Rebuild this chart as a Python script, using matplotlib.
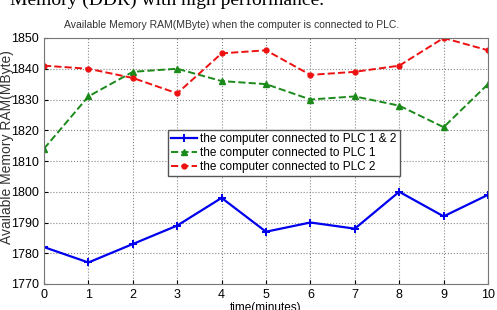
import matplotlib.pyplot as plt

time_min = [0, 1, 2, 3, 4, 5, 6, 7, 8, 9, 10]
plc_both = [1782, 1777, 1783, 1789, 1798, 1787, 1790, 1788, 1800, 1792, 1799]
plc_1 = [1814, 1831, 1839, 1840, 1836, 1835, 1830, 1831, 1828, 1821, 1835]
plc_2 = [1841, 1840, 1837, 1832, 1845, 1846, 1838, 1839, 1841, 1850, 1846]

plt.rcParams['font.family'] = ['Liberation Sans', 'DejaVu Sans']

fig = plt.figure(figsize=(4.97, 3.10), dpi=100)
ax = fig.add_axes([44/497, 1 - 284/310, 444/497, 246/310])

ax.plot(time_min, plc_both, color='#0000ee', lw=1.6, marker='+', ms=6, mew=1.4,
        label='the computer connected to PLC 1 & 2')
ax.plot(time_min, plc_1, color='#1a8a1a', lw=1.4, ls='--', marker='^', ms=5,
        label='the computer connected to PLC 1')
ax.plot(time_min, plc_2, color='#ee1111', lw=1.4, ls='--', marker='o', ms=3.5,
        label='the computer connected to PLC 2')

ax.set_xlim(0, 10)
ax.set_ylim(1770, 1850)
ax.set_xticks(time_min)
ax.set_yticks(range(1770, 1851, 10))
ax.grid(True, ls=':', color='#888888', lw=0.8)
ax.tick_params(labelsize=9, direction='in', length=3)
for s in ax.spines.values():
    s.set_color('#777777')

ax.set_xlabel('time(minutes)', fontsize=8.5, labelpad=1)
ax.set_ylabel('Available Memory RAM(MByte)', fontsize=10, color='#333333')
ax.yaxis.set_label_coords(-0.068, 0.557)

fig.text(232/497, 1 - 25/310, 'Available Memory RAM(MByte) when the computer is connected to PLC.',
         fontsize=7.5, color='#333333', ha='center', va='center')

leg = ax.legend(loc='upper left', bbox_to_anchor=(0.279, 0.627), fontsize=8.5,
                fancybox=False, framealpha=1, edgecolor='#555555',
                handlelength=2.2, handletextpad=0.3, borderpad=0.25,
                labelspacing=0.2, borderaxespad=0)

fig.text(0.02, 0.985, 'Memory (DDR) with high performance.', fontsize=14,
         family='Liberation Serif', va='baseline')

fig.savefig('out.png', dpi=100)
